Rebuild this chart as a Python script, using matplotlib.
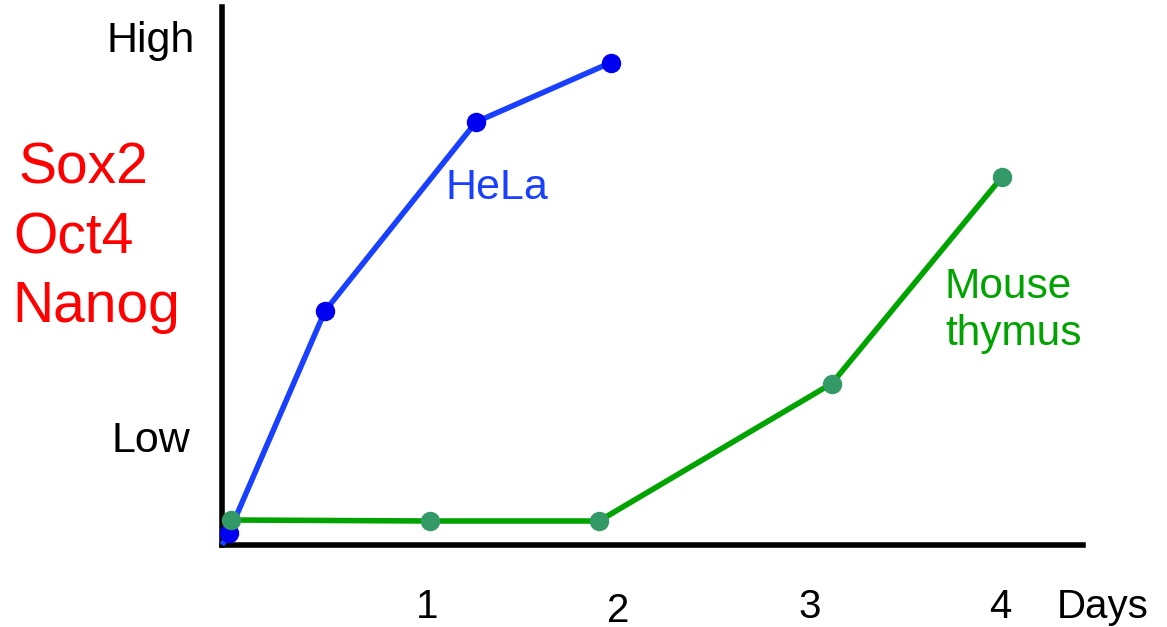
import matplotlib
matplotlib.use("Agg")
import matplotlib.pyplot as plt
import matplotlib.transforms as mtransforms

# ---- data ----
hela_days = [-0.076, -0.04, 0.463, 1.254, 1.961]
hela_level = [0.0, 2.4, 46.8, 84.6, 96.5]
mouse_days = [-0.029, 1.013, 1.898, 3.117, 4.008]
mouse_level = [5.0, 4.8, 4.8, 32.3, 73.6]
tick_days = [1, 2, 3, 4]
tick_labels = ["1", "2", "3", "4"]
genes = ["Sox2", "Oct4", "Nanog"]

W, H = 1167, 627
plt.rcParams['font.family'] = ['Liberation Sans', 'DejaVu Sans']
fig = plt.figure(figsize=(W / 100, H / 100), dpi=100)
fig.patch.set_facecolor('white')

def fx(px):
    return px / W

def fy(py):
    return 1 - py / H

ax = fig.add_axes([fx(222), fy(545), (1083 - 222) / W, (545 - 7) / H])
ax.set_xlim(-0.076, 4.432)
ax.set_ylim(0, 107.6)
for s in ['top', 'right']:
    ax.spines[s].set_visible(False)
for s in ['left', 'bottom']:
    ax.spines[s].set_linewidth(4)
    ax.spines[s].set_color('black')
    ax.spines[s].set_capstyle('projecting')
ax.set_xticks([])
ax.set_yticks([])

ax.plot(hela_days, hela_level, color='#1a40ff', lw=4.0, marker='o', markersize=13,
        markerfacecolor='#0000f0', markeredgecolor='#0000f0', markevery=[1, 2, 3, 4],
        clip_on=False, zorder=3, solid_capstyle='butt')
ax.plot(mouse_days, mouse_level, color='#00a300', lw=4.0, marker='o', markersize=13,
        markerfacecolor='#339966', markeredgecolor='#339966',
        clip_on=False, zorder=4)

# tick labels along x
trans = mtransforms.blended_transform_factory(ax.transData, fig.transFigure)
tick_base = [618, 622, 618, 618]
for d, lab, b in zip(tick_days, tick_labels, tick_base):
    ax.text(d, fy(b), lab, transform=trans, ha='center', va='baseline',
            fontsize=29, color='black')
fig.text(fx(1057), fy(618), "Days", ha='left', va='baseline', fontsize=29, color='black')

# y labels
fig.text(fx(194.5), fy(52.3), "High", ha='right', va='baseline', fontsize=31, color='black')
fig.text(fx(190.5), fy(452.3), "Low", ha='right', va='baseline', fontsize=31, color='black')

# gene labels
gene_x = [18.5, 13, 12.5]
gene_base = [183.5, 254, 322]
for g, gx, gb in zip(genes, gene_x, gene_base):
    fig.text(fx(gx), fy(gb), g, ha='left', va='baseline', fontsize=41, color='#ff0000')

# series labels
fig.text(fx(445.5), fy(199), "HeLa", ha='left', va='baseline', fontsize=31, color='#1a40ff')
fig.text(fx(944), fy(298), "Mouse", ha='left', va='baseline', fontsize=30.5, color='#00a300')
fig.text(fx(945), fy(345), "thymus", ha='left', va='baseline', fontsize=30.5, color='#00a300')

fig.savefig("out.png", dpi=100, facecolor='white')
